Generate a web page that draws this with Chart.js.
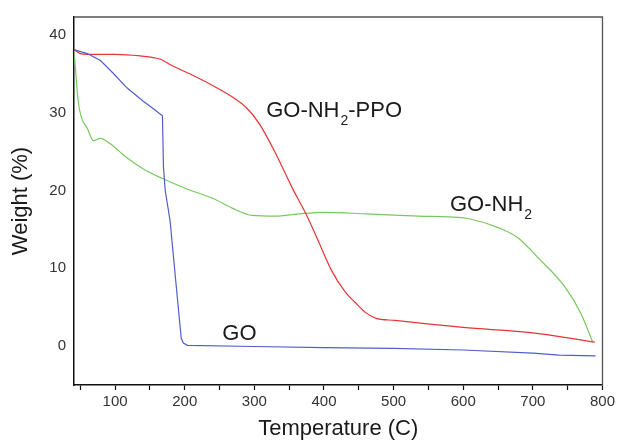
<!DOCTYPE html>
<html>
<head>
<meta charset="utf-8">
<script src="https://cdn.jsdelivr.net/npm/chart.js@4.4.1/dist/chart.umd.min.js"></script>
<style>
  html, body { margin: 0; padding: 0; background: #fff; }
  #wrap { width: 618px; height: 442px; }
</style>
</head>
<body>
<div id="wrap"><canvas id="tga_chart"></canvas></div>
<script>
// temperature (C) / weight (%)
const go_temp = [41, 60, 79, 97, 117, 140, 155, 168, 169.5, 172, 179, 187, 195, 198, 204, 300, 400, 500, 600, 700, 738, 790];
const go_weight = [38.1, 37.6, 36.7, 35.1, 33.2, 31.5, 30.5, 29.6, 23, 20, 16.1, 8.5, 1.0, 0.4, 0.1, -0.05, -0.2, -0.3, -0.5, -0.9, -1.15, -1.25];

const ppo_temp = [41, 50, 60, 100, 136, 164, 183, 207, 240, 269, 288, 307, 331, 354, 374, 390, 411, 431, 445, 460, 474, 502, 600, 700, 789];
const ppo_weight = [38.1, 37.6, 37.5, 37.5, 37.3, 36.9, 36.0, 35.0, 33.5, 32.0, 30.7, 28.6, 24.7, 20.4, 17.0, 13.9, 9.7, 6.9, 5.6, 4.3, 3.6, 3.3, 2.4, 1.7, 0.5];

const nh2_temp = [41, 43, 47, 52, 60, 69, 79, 93, 117, 140, 169, 203, 240, 269, 297, 330, 364, 400, 460, 536, 580, 607, 654, 679, 707, 746, 769, 786];
const nh2_weight = [38.1, 35.8, 31.5, 29.3, 28.0, 26.4, 26.7, 26.0, 24.2, 22.8, 21.5, 20.2, 19.0, 17.7, 16.8, 16.7, 17.0, 17.2, 17.0, 16.7, 16.6, 16.4, 15.1, 13.9, 11.4, 7.6, 4.2, 0.5];

const x_ticks = [50, 100, 150, 200, 250, 300, 350, 400, 450, 500, 550, 600, 650, 700, 750, 800];
const y_ticks = [0, 10, 20, 30, 40];

// curve labels: [main, subscript, tail, temp, weight]
const curve_labels = [
	['GO-NH', '2', '-PPO', 317, 29.4],
	['GO-NH', '2', '', 581, 17.4],
	['GO', '', '', 254, 0.8]
];

function points(xs, ys) {
	return xs.map((x, i) => ({ x: x, y: ys[i] }));
}

const line_settings = {
	fill: false,
	borderWidth: 1.2,
	pointRadius: 0,
	cubicInterpolationMode: 'monotone',
};

const frame_plugin = {
	id: 'frame',
	afterDraw(chart) {
		const a = chart.chartArea;
		const c = chart.ctx;
		c.save();
		c.strokeStyle = '#555';
		c.lineWidth = 1.3;
		c.beginPath();
		c.moveTo(a.left, a.top);
		c.lineTo(a.right, a.top);
		c.lineTo(a.right, a.bottom);
		c.stroke();
		c.restore();
	}
};

const label_plugin = {
	id: 'curve_labels',
	afterDatasetsDraw(chart) {
		const c = chart.ctx;
		const xs = chart.scales.x;
		const ys = chart.scales.y;
		c.save();
		c.fillStyle = '#1a1a1a';
		c.textBaseline = 'alphabetic';
		curve_labels.forEach(l => {
			let px = xs.getPixelForValue(l[3]);
			const py = ys.getPixelForValue(l[4]);
			c.font = '22px "Liberation Sans", Arial, sans-serif';
			c.fillText(l[0], px, py);
			px += c.measureText(l[0]).width;
			if (l[1]) {
				c.font = '14px "Liberation Sans", Arial, sans-serif';
				c.fillText(l[1], px + 1, py + 8);
				px += c.measureText(l[1]).width + 1;
			}
			if (l[2]) {
				c.font = '22px "Liberation Sans", Arial, sans-serif';
				c.fillText(l[2], px, py);
			}
		});
		c.restore();
	}
};

const ctx = document.getElementById('tga_chart').getContext('2d');

new Chart(ctx, {
	type: 'line',
	data: {
		datasets: [{
			label: 'GO',
			data: points(go_temp, go_weight),
			borderColor: 'rgb(80, 95, 200)',
			...line_settings,
			cubicInterpolationMode: 'default',
			tension: 0
		}, {
			label: 'GO-NH2-PPO',
			data: points(ppo_temp, ppo_weight),
			borderColor: 'rgb(232, 52, 52)',
			...line_settings
		}, {
			label: 'GO-NH2',
			data: points(nh2_temp, nh2_weight),
			borderColor: 'rgb(120, 200, 95)',
			...line_settings
		}]
	},
	options: {
		responsive: true,
		maintainAspectRatio: false,
		animation: false,
		layout: {
			padding: { top: 15, right: 15, left: 0, bottom: 0 }
		},
		plugins: {
			legend: { display: false },
			tooltip: { enabled: false }
		},
		scales: {
			x: {
				type: 'linear',
				min: 41,
				max: 800,
				afterBuildTicks: (axis) => {
					axis.ticks = x_ticks.map(v => ({ value: v }));
				},
				afterFit: (axis) => { axis.height = 57; },
				border: { display: true, color: '#111', width: 1.5 },
				grid: {
					drawOnChartArea: false,
					drawTicks: true,
					tickLength: 5,
					tickColor: '#111',
					tickWidth: 1.2
				},
				ticks: {
					autoSkip: false,
					maxRotation: 0,
					padding: 3,
					color: '#333',
					font: { family: '"Liberation Sans", Arial, sans-serif', size: 15 },
					callback: (v) => (v % 100 === 0 ? String(v) : '')
				},
				title: {
					display: true,
					text: 'Temperature (C)',
					color: '#1a1a1a',
					font: { family: '"Liberation Sans", Arial, sans-serif', size: 22 },
					padding: { top: 0, bottom: 0 }
				}
			},
			y: {
				type: 'linear',
				min: -5,
				max: 42.3,
				afterBuildTicks: (axis) => {
					axis.ticks = y_ticks.map(v => ({ value: v }));
				},
				afterFit: (axis) => { axis.width = 74; },
				border: { display: true, color: '#111', width: 1.5 },
				grid: { display: false, drawTicks: false },
				ticks: {
					padding: 8,
					color: '#333',
					font: { family: '"Liberation Sans", Arial, sans-serif', size: 15 }
				},
				title: {
					display: true,
					text: 'Weight (%)',
					color: '#1a1a1a',
					font: { family: '"Liberation Sans", Arial, sans-serif', size: 22 },
					padding: { top: 8, bottom: 0 }
				}
			}
		}
	},
	plugins: [frame_plugin, label_plugin]
});
</script>
</body>
</html>
